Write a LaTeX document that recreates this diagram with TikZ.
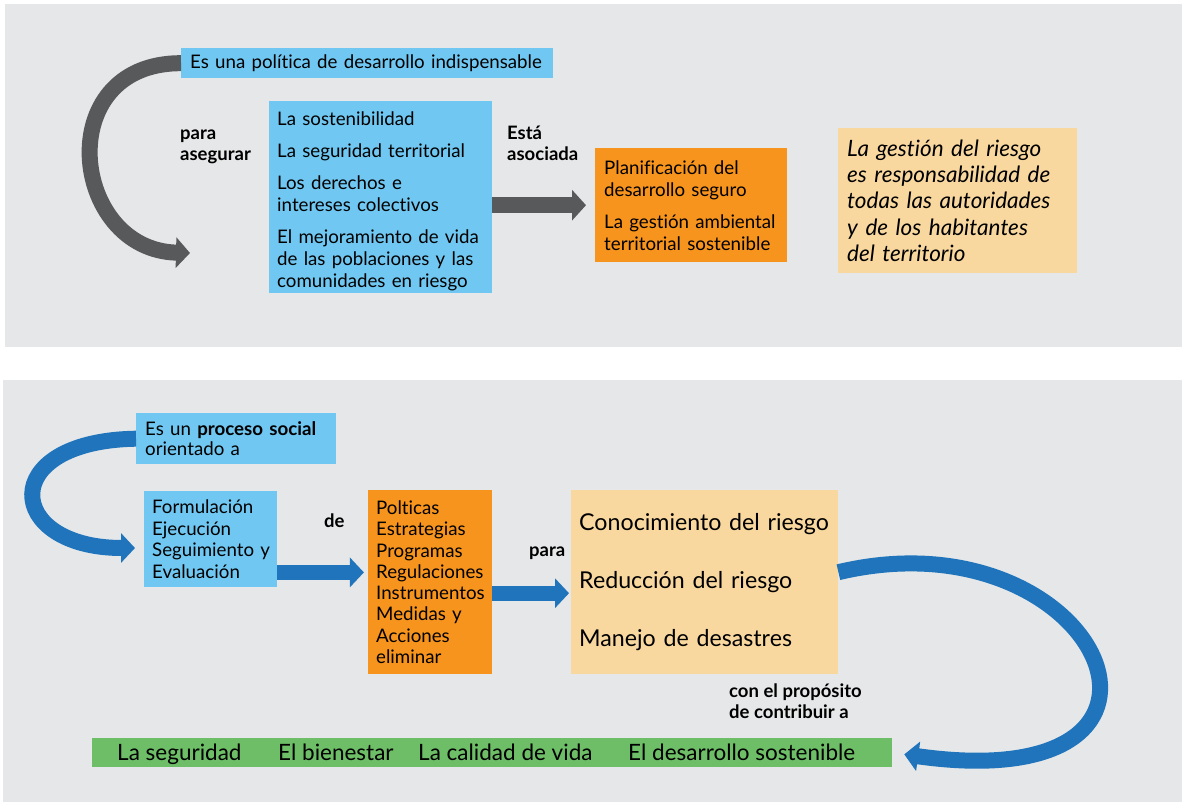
\documentclass[tikz,border=0pt]{standalone}
\usepackage{fontspec}
\setmainfont{Lato}[Ligatures=NoCommon]
\usetikzlibrary{arrows.meta,calc}

\definecolor{panelgray}{HTML}{E6E7E8}
\definecolor{sky}{HTML}{70C7F1}
\definecolor{orangefill}{HTML}{F7941E}
\definecolor{sand}{HTML}{F9D8A0}
\definecolor{greenfill}{HTML}{6DBE66}
\definecolor{arrowgray}{HTML}{58595B}
\definecolor{arrowblue}{HTML}{1F74BC}

\tikzset{
  box/.style={anchor=north west, inner xsep=8pt, inner ysep=0pt, align=left,
    font=\fontsize{18.7}{22}\selectfont},
  skybox/.style={box, fill=sky},
  orangebox/.style={box, fill=orangefill},
  sandbox/.style={box, fill=sand},
  lbl/.style={anchor=base west, inner sep=0pt, align=left,
    font=\bfseries\fontsize{18.5}{21}\selectfont},
  item/.style={anchor=base west, inner sep=0pt, font=\fontsize{22.5}{24}\selectfont},
  grayarrow/.style={draw=arrowgray, line width=16pt, -{Triangle[length=14pt,width=30pt]}},
  bluearrow/.style={draw=arrowblue, line width=15pt, -{Triangle[length=14pt,width=29pt]}},
}

\begin{document}
\begin{tikzpicture}[x=1pt, y=-1pt]
  \useasboundingbox (0,0) rectangle (1182,802);
  % panels
  \fill[panelgray] (5,4) rectangle (1182,347);
  \fill[panelgray] (3,380) rectangle (1182,802);

  % upper panel
  \node[skybox, inner xsep=9pt, text width=354pt, minimum height=30pt] (politica) at (181,48)
    {Es~una~política~de~desarrollo~indispensable};
  \node[skybox, text width=207pt, minimum height=192pt] (asegura) at (269,101)
    {\rule{0pt}{22pt}La sostenibilidad\\[10pt]
     La seguridad territorial\\[10pt]
     Los derechos e\\intereses colectivos\\[10pt]
     El~mejoramiento~de~vida\\de~las~poblaciones~y~las\\comunidades~en~riesgo};
  \node[orangebox, inner xsep=9pt, text width=174pt, minimum height=114pt] (planifica) at (595,148)
    {Planificación del\\desarrollo seguro\\[10pt]
     La~gestión~ambiental\\territorial~sostenible};
  \node[sandbox, inner xsep=9pt, text width=221pt, minimum height=145pt,
    font=\itshape\fontsize{22.5}{26.4}\selectfont] (gestion) at (838,128)
    {La~gestión~del~riesgo\\es~responsabilidad~de\\todas~las~autoridades\\y~de~los~habitantes\\del territorio};
  \node[lbl] (para) at (180,161) {para\\asegurar};
  \node[lbl] (asociada) at (507,161) {Está\\asociada};
  \coordinate (gtip) at (190,253);

  \draw[grayarrow] (politica.west) .. controls (50,63) and (70,250) .. (gtip);
  \draw[grayarrow, shorten >=9pt] (asegura.east |- planifica.west) -- (planifica.west);

  % lower panel
  \node[skybox, inner xsep=9pt, text width=182pt, minimum height=51pt,
    font=\fontsize{18.7}{20.5}\selectfont] (proceso) at (136,413)
    {Es~un~\textbf{proceso~social}\\orientado a};
  \node[skybox, text width=117pt, minimum height=96pt,
    font=\fontsize{18.7}{21.5}\selectfont] (formula) at (144,491)
    {Formulación\\Ejecución\\Seguimiento~y\\Evaluación};
  \node[orangebox, text width=108pt, minimum height=184pt,
    font=\fontsize{18.7}{21.3}\selectfont] (politicas) at (368,490)
    {Polticas\\Estrategias\\Programas\\Regulaciones\\Instrumentos\\Medidas~y\\Acciones\\eliminar};
  \node[sandbox, text width=251pt, minimum height=184pt,
    font=\fontsize{23.2}{58}\selectfont] (riesgo) at (571,490)
    {Conocimiento~del~riesgo\\Reducción~del~riesgo\\Manejo~de~desastres};
  \node[box, fill=greenfill, minimum width=800pt, minimum height=29pt] (meta) at (92,738) {};
  \node[item] (seguridad) at (117,760) {La seguridad};
  \node[item] (bienestar) at (278,760) {El bienestar};
  \node[item] (calidad) at (418,760) {La calidad de vida};
  \node[item] (sostenible) at (628,760) {El desarrollo sostenible};
  \node[lbl] (de) at (324,527) {de};
  \node[lbl] (parab) at (529,556) {para};
  \node[lbl] (proposito) at (729,718) {con el propósito\\de contribuir a};
  \coordinate (btip) at (135,548);

  \draw[bluearrow, line width=16pt] (proceso.west) .. controls (-5,441) and (5,548) .. (btip);
  \draw[bluearrow, shorten >=5pt] ($(formula.south east)+(0,-15)$) -- ($(formula.south east)+(91.5,-15)$);
  \draw[bluearrow, shorten >=2pt] ($(politicas.east)+(0,11)$) -- ($(riesgo.west)+(0,11)$);
  \draw[bluearrow, line width=16pt, shorten >=12pt] ($(riesgo.east)+(0,-10)$)
    .. controls (1100,510) and (1230,800) .. (meta.east);
\end{tikzpicture}
\end{document}
